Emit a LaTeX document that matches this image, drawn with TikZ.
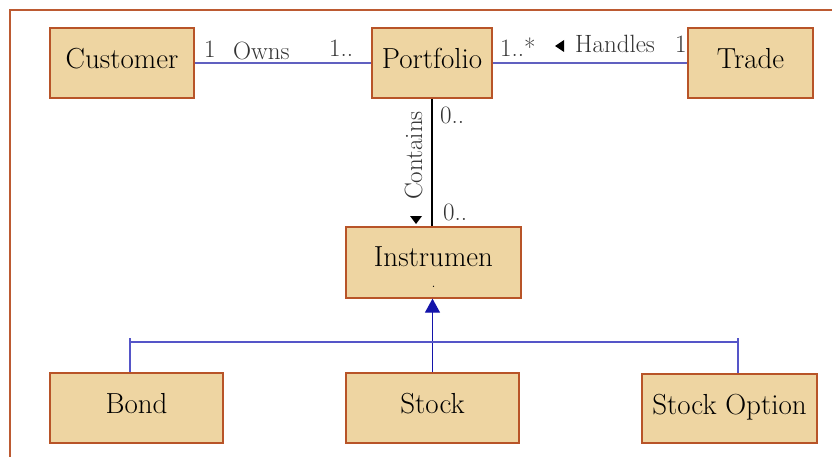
\documentclass[tikz,border=0pt]{standalone}
\usepackage{fontspec}
\usetikzlibrary{arrows.meta}
\definecolor{boxfill}{RGB}{238,213,162}
\definecolor{boxdraw}{RGB}{184,84,40}
\definecolor{framec}{RGB}{188,90,50}
\definecolor{assoc}{RGB}{96,96,192}
\definecolor{genline}{RGB}{20,20,170}
\definecolor{genbar}{RGB}{85,85,200}
\begin{document}
\begin{tikzpicture}[x=1pt,y=-1pt,
  cls/.style={draw=boxdraw, line width=1.3pt, fill=boxfill, inner sep=0pt,
              text height=11pt, text depth=0pt, font=\fontsize{29}{31}\selectfont},
  clstext/.style={inner sep=0pt, anchor=base, font=\fontsize{29}{31}\selectfont},
  lbl/.style={font=\fontsize{25}{27}\selectfont, inner sep=0pt, anchor=base west, text=black!80},
  asc/.style={draw=assoc, line width=1.2pt},
  bar/.style={draw=genbar, line width=1.2pt},
  tri/.style={fill=black}
  ]
\useasboundingbox (0,0) rectangle (832,457);
\draw[framec, line width=1.5pt] (10,457) -- (10,10) -- (832,10);

% classes
\node[cls, minimum width=144pt, minimum height=70pt] (cust) at (122,63) {Customer};
\node[cls, minimum width=120pt, minimum height=70pt] (port) at (432,63) {Portfolio};
\node[cls, minimum width=125pt, minimum height=70pt] (trade) at (750.5,63) {Trade};
\node[cls, minimum width=175pt, minimum height=71pt] (inst) at (433.5,262.5) {};
\node[clstext] (instname) at (433.5,266) {Instrumen};
\node[inner sep=0pt, anchor=base, font=\fontsize{16}{18}\selectfont] (instdot) at (433.5,287) {.};
\node[cls, minimum width=173pt, minimum height=70pt] (bond) at (136.5,408) {Bond};
\node[cls, minimum width=173pt, minimum height=70pt] (stock) at (432.5,408) {Stock};
\node[cls, minimum width=175pt, minimum height=69pt] (sopt) at (729.5,408.5) {Stock Option};

% associations
\draw[asc] (cust.east) -- (port.west);
\draw[asc] (port.east) -- (trade.west);
\draw[black, line width=1.1pt] (port.south) -- (port.south |- inst.north);

% generalization
\draw[genline, line width=1.3pt, -{Triangle[width=15pt,length=14pt]}] (stock.north) -- (stock.north |- inst.south);
\coordinate (barL) at (130,342);
\coordinate (barR) at (738,342);
\coordinate (tickL) at (130,338);
\coordinate (tickR) at (738,338);
\draw[bar] (barL) -- (barR);
\draw[bar] (tickL) -- (tickL |- bond.north);
\draw[bar] (tickR) -- (tickR |- sopt.north);

% labels
\node[lbl] (m1) at (204,58) {1};
\node[lbl] (owns) at (233,60) {Owns};
\node[lbl] (m2) at (329,57) {1..};
\node[lbl] (m3) at (500,57) {1..*};
\fill[tri] (555,46) -- (564,40) -- (564,52) -- cycle;
\node[lbl] (handles) at (575,53) {Handles};
\node[lbl] (m4) at (675,53) {1};
\node[lbl] (m5) at (440,124) {0..};
\node[lbl] (m6) at (443,220) {0..};
\node[lbl, rotate=90, anchor=base] (contains) at (422,155.5) {Contains};
\fill[tri] (410,216) -- (422,216) -- (416,224) -- cycle;
\end{tikzpicture}
\end{document}
